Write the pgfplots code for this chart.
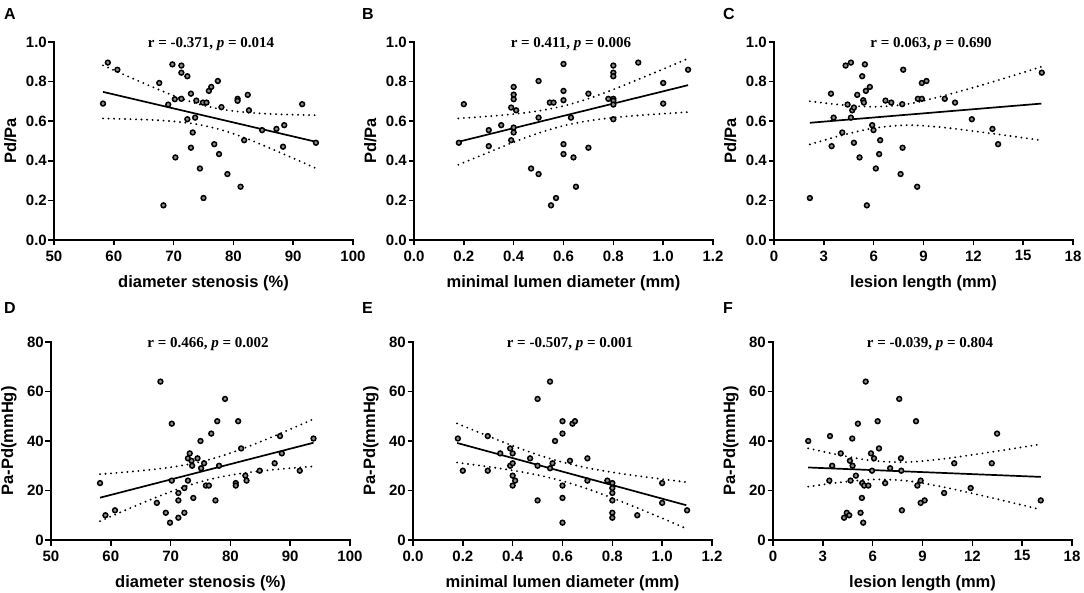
\documentclass[border=0pt]{standalone}
\usepackage{pgfplots}
\pgfplotsset{compat=1.18}
\usepackage{fontspec}
\setmainfont{Liberation Sans}
\newfontfamily\tnr{Liberation Serif}
\pgfplotsset{
  panel/.style={
    scale only axis, width=299pt, height=198pt,
    axis x line*=bottom, axis y line*=left,
    axis line style={line width=1.6pt, line cap=rect},
    every tick/.style={line width=1.6pt, black},
    major tick length=5.5pt,
    tick align=outside,
    minor tick num=0,
    ticklabel style={font=\bfseries\fontsize{15}{16}\selectfont},
    yticklabel style={inner sep=1.5pt},
    xticklabel style={yshift=-1.5pt},
    every axis x label/.style={at={(rel axis cs:0.5,-0.2374)}, anchor=base},
    every axis y label/.style={at={(rel axis cs:-0.127,0.5)}, anchor=base, rotate=90},
    label style={font=\bfseries\fontsize{16.5}{18}\selectfont},
    /pgf/number format/assume math mode=true,
    clip=false,
    anchor=south west,
  },
  y1/.style={ymin=0, ymax=1, ytick={0,0.2,0.4,0.6,0.8,1.0}, ylabel={Pd/Pa},
    yticklabel style={/pgf/number format/.cd, fixed, fixed zerofill, precision=1}},
  y2/.style={ymin=0, ymax=80, ytick={0,20,40,60,80}, ylabel={Pa-Pd(mmHg)}},
  xds/.style={xmin=50, xmax=100, xtick={50,60,70,80,90,100}, xlabel={diameter stenosis (\%)}},
  xmld/.style={xmin=0, xmax=1.2, xtick={0,0.2,0.4,0.6,0.8,1.0,1.2}, xlabel={minimal lumen diameter (mm)},
    xticklabel style={/pgf/number format/.cd, fixed, fixed zerofill, precision=1}},
  xll/.style={xmin=0, xmax=18, xtick={0,3,6,9,12,15,18}, xlabel={lesion length (mm)}},
  pts/.style={only marks, mark=*, mark size=2.4pt, mark options={draw=black, fill=black!45, line width=1.5pt}},
  fit/.style={no marks, black, line width=1.7pt},
  ci/.style={no marks, black, smooth, line width=2.1pt, line cap=round, dash pattern=on 0pt off 5.5pt},
}
\newcommand{\ann}[1]{\node[anchor=base, font=\tnr\bfseries\fontsize{15}{16}\selectfont] at (rel axis cs:0.525,0.972) {#1};}
\newcommand{\lett}[1]{\bfseries\fontsize{16}{18}\selectfont #1}
\begin{document}
\begin{tikzpicture}
\useasboundingbox (0,0) rectangle (1084pt,-593pt);
\node[anchor=base west, inner sep=0] at (4pt,-19.5pt) {\lett{A}};
\node[anchor=base west, inner sep=0] at (362pt,-19.5pt) {\lett{B}};
\node[anchor=base west, inner sep=0] at (723pt,-19.5pt) {\lett{C}};
\node[anchor=base west, inner sep=0] at (4pt,-313.5pt) {\lett{D}};
\node[anchor=base west, inner sep=0] at (362pt,-313.5pt) {\lett{E}};
\node[anchor=base west, inner sep=0] at (723pt,-313.5pt) {\lett{F}};

% ---------------- A
\begin{axis}[panel, y1, xds, at={(54pt,-240pt)}]
\addplot[ci] coordinates {(58.2,0.882)(62,0.831)(66,0.779)(70,0.729)(74,0.688)(78,0.660)(82,0.645)(86,0.637)(90,0.633)(93.8,0.630)};
\addplot[ci] coordinates {(58.2,0.614)(62,0.611)(66,0.607)(70,0.599)(74,0.584)(78,0.556)(82,0.515)(86,0.465)(90,0.413)(93.8,0.362)};
\addplot[fit] coordinates {(58.2,0.748)(93.8,0.496)};
\addplot[pts] coordinates {(58.2,0.689)(59.0,0.896)(60.6,0.860)(67.6,0.793)(69.1,0.684)(69.8,0.887)(70.2,0.711)(70.3,0.417)(71.3,0.881)(71.3,0.845)(71.3,0.713)(72.3,0.827)(72.3,0.610)(72.9,0.739)(72.9,0.466)(73.2,0.543)(73.6,0.618)(73.8,0.704)(74.4,0.361)(74.9,0.694)(75.0,0.212)(75.5,0.694)(75.9,0.753)(76.3,0.773)(76.8,0.484)(77.4,0.803)(77.6,0.434)(78.0,0.671)(79.0,0.333)(80.7,0.713)(80.7,0.703)(81.2,0.269)(81.8,0.504)(82.4,0.733)(82.6,0.655)(84.8,0.555)(87.2,0.561)(88.3,0.471)(88.5,0.580)(91.5,0.686)(93.8,0.491)(68.3,0.175)};
\ann{r = -0.371, \textit{p} = 0.014}
\end{axis}

% ---------------- B
\begin{axis}[panel, y1, xmld, at={(414pt,-240pt)}]
\addplot[ci] coordinates {(0.178,0.614)(0.3,0.625)(0.4,0.636)(0.5,0.652)(0.6,0.677)(0.7,0.714)(0.8,0.760)(0.9,0.811)(1.0,0.863)(1.1,0.917)};
\addplot[ci] coordinates {(0.178,0.380)(0.3,0.443)(0.4,0.494)(0.5,0.540)(0.6,0.577)(0.7,0.602)(0.8,0.618)(0.9,0.629)(1.0,0.638)(1.1,0.646)};
\addplot[fit] coordinates {(0.178,0.496)(1.1,0.782)};
\addplot[pts] coordinates {(0.18,0.491)(0.20,0.686)(0.30,0.555)(0.30,0.474)(0.35,0.580)(0.39,0.669)(0.39,0.504)(0.40,0.773)(0.40,0.734)(0.40,0.711)(0.40,0.568)(0.40,0.543)(0.41,0.655)(0.47,0.361)(0.50,0.803)(0.50,0.618)(0.50,0.333)(0.545,0.694)(0.55,0.175)(0.56,0.694)(0.57,0.212)(0.60,0.889)(0.60,0.753)(0.60,0.706)(0.60,0.484)(0.60,0.434)(0.63,0.618)(0.64,0.417)(0.65,0.269)(0.70,0.739)(0.70,0.466)(0.78,0.713)(0.80,0.881)(0.80,0.845)(0.80,0.827)(0.80,0.713)(0.80,0.703)(0.80,0.684)(0.80,0.610)(0.90,0.896)(1.00,0.793)(1.00,0.689)(1.10,0.860)};
\ann{r = 0.411, \textit{p} = 0.006}
\end{axis}

% ---------------- C
\begin{axis}[panel, y1, xll, at={(774pt,-240pt)}]
\addplot[ci] coordinates {(2.16,0.701)(4,0.683)(6,0.673)(8,0.686)(10,0.724)(12,0.770)(14,0.820)(16.1,0.875)};
\addplot[ci] coordinates {(2.16,0.483)(4,0.527)(6,0.565)(8,0.580)(10,0.570)(12,0.550)(14,0.528)(16.1,0.503)};
\addplot[fit] coordinates {(2.16,0.592)(16.1,0.689)};
\addplot[pts] coordinates {(2.16,0.212)(3.43,0.739)(3.47,0.474)(3.59,0.618)(4.11,0.543)(4.31,0.881)(4.43,0.684)(4.63,0.896)(4.63,0.618)(4.71,0.655)(4.81,0.669)(4.81,0.491)(5.01,0.733)(5.15,0.417)(5.31,0.827)(5.37,0.706)(5.41,0.694)(5.47,0.887)(5.53,0.753)(5.59,0.175)(5.77,0.773)(5.91,0.580)(5.99,0.555)(6.13,0.361)(6.33,0.434)(6.39,0.504)(6.71,0.704)(7.06,0.694)(7.62,0.333)(7.72,0.686)(7.74,0.466)(7.78,0.860)(8.62,0.269)(8.66,0.713)(8.90,0.713)(8.90,0.793)(9.18,0.803)(10.28,0.713)(10.90,0.694)(11.91,0.610)(13.15,0.561)(13.49,0.484)(16.12,0.845)};
\ann{r = 0.063, \textit{p} = 0.690}
\end{axis}

% ---------------- D
\begin{axis}[panel, y2, xds, at={(51pt,-540pt)}]
\addplot[ci] coordinates {(58.2,26.6)(62,27.33)(66,28.23)(70,29.38)(74,31.05)(78,33.54)(82,36.84)(86,40.67)(90,44.75)(93.9,48.86)};
\addplot[ci] coordinates {(58.2,7.6)(62,11.59)(66,15.67)(70,19.50)(74,22.81)(78,25.30)(82,26.96)(86,28.11)(90,29.01)(93.9,29.76)};
\addplot[fit] coordinates {(58.2,17.1)(93.9,39.3)};
\addplot[pts] coordinates {(58.2,23)(59.1,10)(60.7,12)(67.7,15)(68.3,64)(69.2,11)(69.9,7)(70.2,47)(70.2,24)(71.3,9)(71.3,16)(71.3,19)(72.3,21)(72.3,11)(72.9,33)(72.9,24)(73.2,35)(73.5,32)(73.6,30)(73.8,17)(74.5,33)(75.0,40)(75.1,29)(75.6,31)(75.9,22)(76.4,22)(76.8,43)(77.5,16)(77.8,48)(78.1,30)(79.1,57)(80.9,23)(80.9,22)(81.3,48)(81.8,37)(82.5,26)(82.7,24)(84.9,28)(87.4,31)(88.3,42)(88.6,35)(91.6,28)(93.9,41)};
\ann{r = 0.466, \textit{p} = 0.002}
\end{axis}

% ---------------- E
\begin{axis}[panel, y2, xmld, at={(413pt,-540pt)}]
\addplot[ci] coordinates {(0.177,47.1)(0.3,42.04)(0.4,38.08)(0.5,34.46)(0.6,31.44)(0.7,29.13)(0.8,27.37)(0.9,25.90)(1.0,24.60)(1.097,23.4)};
\addplot[ci] coordinates {(0.177,31.3)(0.3,29.64)(0.4,28.12)(0.5,26.28)(0.6,23.84)(0.7,20.67)(0.8,16.97)(0.9,12.96)(1.0,8.80)(1.097,4.6)};
\addplot[fit] coordinates {(0.177,39.2)(1.097,14.05)};
\addplot[pts] coordinates {(0.18,41)(0.20,28)(0.30,42)(0.30,28)(0.35,35)(0.39,37)(0.39,30)(0.40,31)(0.40,35)(0.40,26)(0.40,22)(0.41,24)(0.47,33)(0.50,57)(0.50,30)(0.50,16)(0.55,64)(0.55,29)(0.56,31)(0.57,40)(0.60,48)(0.60,43)(0.60,22)(0.60,17)(0.60,7)(0.63,32)(0.64,47)(0.65,48)(0.70,33)(0.70,24)(0.78,24)(0.80,23)(0.80,21)(0.80,19)(0.80,16)(0.80,11)(0.80,9)(0.90,10)(1.00,23)(1.00,15)(1.10,12)};
\ann{r = -0.507, \textit{p} = 0.001}
\end{axis}

% ---------------- F
\begin{axis}[panel, y2, xll, at={(773pt,-540pt)}]
\addplot[ci] coordinates {(2.12,37.05)(4,34.32)(6,32.05)(8,31.46)(10,32.58)(12,34.40)(14,36.44)(16.12,38.7)};
\addplot[ci] coordinates {(2.12,21.55)(4,23.26)(6,24.45)(8,23.96)(10,21.74)(12,18.84)(14,15.72)(16.12,12.3)};
\addplot[fit] coordinates {(2.12,29.3)(16.12,25.5)};
\addplot[pts] coordinates {(2.12,40)(3.43,42)(3.39,24)(3.56,30)(4.08,35)(4.28,9)(4.44,11)(4.59,10)(4.63,32)(4.67,24)(4.77,41)(4.79,30)(4.99,26)(5.11,47)(5.27,11)(5.35,17)(5.37,23)(5.43,7)(5.49,22)(5.58,64)(5.74,22)(5.90,35)(5.96,28)(6.08,33)(6.30,48)(6.38,37)(6.75,23)(7.05,29)(7.60,57)(7.70,33)(7.72,28)(7.76,12)(8.61,48)(8.69,22)(8.89,24)(8.89,15)(9.13,16)(10.30,19)(10.91,31)(11.90,21)(13.17,31)(13.49,43)(16.12,16)};
\ann{r = -0.039, \textit{p} = 0.804}
\end{axis}
\end{tikzpicture}
\end{document}
